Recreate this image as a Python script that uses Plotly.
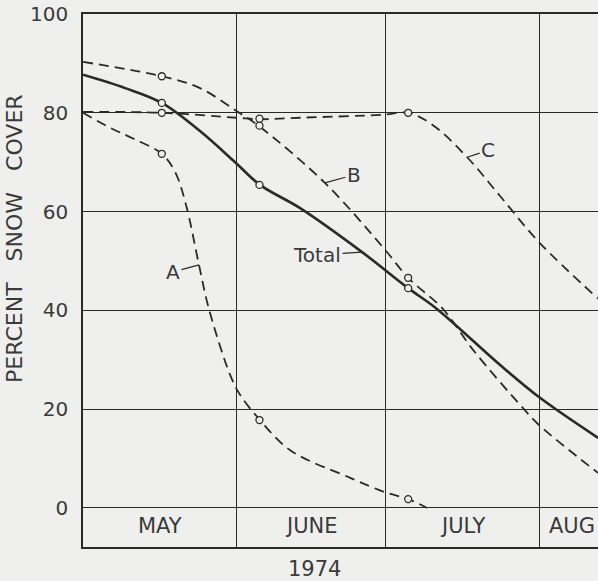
import plotly.graph_objects as go

# x = days since 1 May 1974, y = percent snow cover
month_names = ["MAY", "JUNE", "JULY", "AUG"]
month_starts = [0, 31, 61, 92]
month_label_x = [15.5, 46, 76.5, 93.6]
y_ticks = [0, 20, 40, 60, 80, 100]

total_days = [0, 8.5, 15.9, 23.6, 30.9, 35.7, 43.8, 56.3, 65.6, 71.4, 84.1, 92.2, 103.9]
total_vals = [87.7, 85.0, 82.0, 76.3, 69.8, 65.4, 60.7, 51.8, 44.5, 40.3, 29.0, 22.3, 14.2]

b_days = [0, 15.9, 23.6, 30.9, 35.5, 48.8, 61.0, 65.6, 72.6, 78.7, 88.6, 92.0, 103.9]
b_vals = [90.3, 87.4, 85.0, 80.4, 77.3, 65.8, 52.2, 46.6, 40.3, 32.0, 20.4, 16.8, 7.1]

c_days = [0, 15.9, 30.9, 35.5, 43.8, 60.5, 65.6, 70.6, 77.5, 84.1, 92.0, 103.9]
c_vals = [80.2, 80.0, 79.0, 78.7, 79.0, 79.6, 80.0, 77.5, 71.0, 63.2, 53.8, 42.4]

a_days = [0, 5.4, 10.1, 15.9, 18.6, 20.8, 23.4, 25.4, 29.7, 31.7, 35.7, 41.8, 53.9, 60.9, 65.6, 69.4]
a_vals = [80.0, 77.0, 74.8, 71.7, 68.0, 61.3, 49.2, 40.3, 26.9, 22.9, 17.8, 11.7, 6.1, 3.2, 1.8, 0.0]

obs_days = [15.9, 35.6, 65.6]
a_obs = [71.7, 17.8, 1.8]
b_obs = [87.4, 77.4, 46.6]
c_obs = [80.0, 78.8, 80.0]
total_obs = [82.0, 65.4, 44.5]

# curve labels: (text, day, value on curve, text offset px)
curve_labels = [("A", 23.4, 49.2, -26, 7), ("B", 48.8, 65.8, 29, -8),
                ("C", 77.5, 71.0, 21, -7), ("Total", 56.3, 51.8, -45, 3)]

BG = "#efefed"
INK = "#2a2a2a"
TXT = "#3a3a3a"
FONT = "DejaVu Sans"

fig = go.Figure()
dash = "10px,6px"
for d, v in [(a_days, a_vals), (b_days, b_vals), (c_days, c_vals)]:
    fig.add_trace(go.Scatter(x=d, y=v, mode="lines",
                             line=dict(color=INK, width=1.8, dash=dash, shape="spline", smoothing=1.0),
                             showlegend=False, hoverinfo="skip"))
fig.add_trace(go.Scatter(x=total_days, y=total_vals, mode="lines",
                         line=dict(color=INK, width=2.6, shape="spline", smoothing=1.0),
                         showlegend=False, hoverinfo="skip"))
for obs in [a_obs, b_obs, c_obs, total_obs]:
    fig.add_trace(go.Scatter(x=obs_days, y=obs, mode="markers",
                             marker=dict(symbol="circle", size=7, color=BG,
                                         line=dict(color=INK, width=1.3)),
                             showlegend=False, hoverinfo="skip"))

annotations = []
for name, xm in zip(month_names, month_label_x):
    annotations.append(dict(x=xm, y=-3.7, xref="x", yref="y", text=name, showarrow=False,
                            xanchor="left" if name == "AUG" else "center", yanchor="middle",
                            font=dict(family=FONT, size=21, color=TXT)))
for text, xd, yv, ax, ay in curve_labels:
    annotations.append(dict(x=xd, y=yv, xref="x", yref="y", text=text, showarrow=True,
                            arrowhead=0, arrowwidth=1.2, arrowcolor=INK, ax=ax, ay=ay,
                            standoff=0, font=dict(family=FONT, size=20, color=TXT)))
annotations.append(dict(x=0.4495, y=-0.041, xref="paper", yref="paper", text="1974",
                        showarrow=False, xanchor="center", yanchor="middle",
                        font=dict(family=FONT, size=21, color=TXT)))
annotations.append(dict(x=0, y=0.578, xref="paper", yref="paper",
                        text="PERCENT\u00a0\u00a0\u00a0SNOW\u00a0\u00a0\u00a0COVER",
                        textangle=-90, showarrow=False, xanchor="center", yanchor="middle",
                        xshift=-68, font=dict(family=FONT, size=22, color=TXT)))

fig.update_layout(
    width=598, height=581,
    margin=dict(l=83, r=0, t=14, b=34),
    paper_bgcolor=BG, plot_bgcolor=BG,
    annotations=annotations,
    xaxis=dict(range=[0, 103.9], tickvals=month_starts, showticklabels=False, ticks="",
               showgrid=True, gridcolor=INK, gridwidth=1.3, zeroline=False,
               showline=True, linecolor=INK, linewidth=1.6, mirror=True),
    yaxis=dict(range=[-7.9, 100], tickvals=y_ticks, ticktext=[str(t) for t in y_ticks],
               ticks="", ticklabelstandoff=9, showgrid=True, gridcolor=INK, gridwidth=1.3,
               zeroline=False, showline=True, linecolor=INK, linewidth=1.6,
               tickfont=dict(family=FONT, size=20, color=TXT)),
)

fig.write_html(
    "out.html",
    config={"displayModeBar": False},
    post_script="document.body.style.margin='0';document.body.style.padding='0';"
                "document.body.style.overflow='hidden';document.body.style.background='#efefed';",
)
